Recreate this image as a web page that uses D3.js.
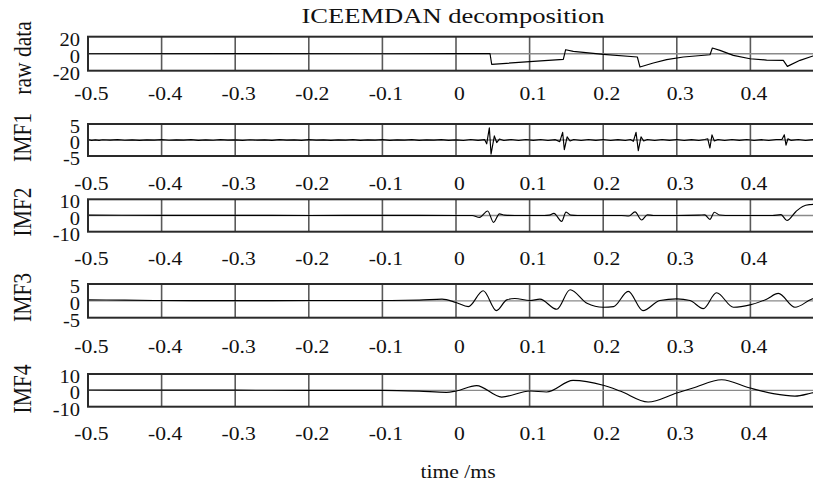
<!DOCTYPE html>
<html>
<head>
<meta charset="utf-8">
<script src="https://cdn.jsdelivr.net/npm/d3@7"></script>
<style>
  html, body { margin: 0; padding: 0; background: #fff; overflow: hidden; }
  svg { display: block; }
  text { font-family: "Liberation Serif", "Times New Roman", serif; fill: #111; }
</style>
</head>
<body>
<svg id="chart" width="813" height="484"></svg>
<script>
// ---- data -------------------------------------------------------------
const xTicks = [-0.5, -0.4, -0.3, -0.2, -0.1, 0, 0.1, 0.2, 0.3, 0.4];
const panelNames = ["raw data", "IMF1", "IMF2", "IMF3", "IMF4"];
const panelLimits = [20, 5, 10, 5, 10];
const titleText = "ICEEMDAN decomposition";
const xLabelText = "time /ms";

// raw signal: flat, then a sawtooth of jumps every 0.1 ms
const rawData = [
  [-0.5, 0], [-0.3, 0.1], [-0.1, 0], [0.0, 0.1], [0.0462, 0.2],
  [0.0485, -12.5], [0.1, -9.4], [0.1458, -6.7],
  [0.149, 4.7], [0.1594, 2.7], [0.2002, -0.8], [0.2464, -3.9],
  [0.25, -15.7], [0.2681, -11], [0.2862, -7], [0.3089, -3.9], [0.3451, -1.2],
  [0.3483, 6.7], [0.3587, 3.9], [0.3768, -2], [0.3995, -5.9], [0.4221, -7.5], [0.4447, -7.8],
  [0.4502, -14.9], [0.4674, -7.8], [0.485, -2.7], [0.5, -1.2]
];

// IMF1: fine noise with short bursts at each jump
const imf1 = [
  [-0.5, 0.1], [-0.495, -0.1], [-0.49, 0.05], [-0.485, -0.12], [-0.48, 0.08], [-0.47, -0.05],
  [-0.46, 0.1], [-0.45, -0.08], [-0.44, 0.06], [-0.43, -0.1], [-0.42, 0.05], [-0.41, -0.06],
  [-0.40, 0.1], [-0.39, -0.08], [-0.38, 0.05], [-0.37, -0.05], [-0.36, 0.1], [-0.35, -0.1],
  [-0.34, 0.05], [-0.33, -0.08], [-0.32, 0.1], [-0.31, -0.05], [-0.30, 0.05], [-0.29, -0.1],
  [-0.28, 0.08], [-0.27, -0.05], [-0.26, 0.05], [-0.25, -0.1], [-0.24, 0.1], [-0.23, -0.05],
  [-0.22, 0.05], [-0.21, -0.1], [-0.20, 0.1], [-0.19, -0.05], [-0.18, 0.05], [-0.17, -0.1],
  [-0.16, 0.05], [-0.15, -0.05], [-0.14, 0.1], [-0.13, -0.1], [-0.12, 0.05], [-0.11, -0.05],
  [-0.10, 0.1], [-0.09, -0.1], [-0.08, 0.05], [-0.07, -0.05], [-0.06, 0.1], [-0.05, -0.1],
  [-0.04, 0.05], [-0.03, -0.05], [-0.02, 0.1], [-0.01, -0.1], [0.0, 0.05], [0.01, -0.15],
  [0.02, 0.15], [0.03, -0.1],
  [0.039, 0.1], [0.0417, -1.2], [0.0453, 3.8], [0.0476, -4.4], [0.0521, 1.3], [0.0553, -0.8],
  [0.059, 0.3], [0.065, -0.15], [0.075, 0.15], [0.085, -0.15], [0.095, 0.15], [0.105, -0.1],
  [0.115, 0.15], [0.125, -0.15], [0.135, 0.1],
  [0.141, -0.5], [0.1449, 2.4], [0.1472, -3.0], [0.151, 1.0], [0.155, -0.3],
  [0.16, 0.15], [0.17, -0.15], [0.18, 0.15], [0.19, -0.1], [0.20, 0.15], [0.21, -0.15],
  [0.22, 0.1], [0.23, -0.15], [0.237, 0.15],
  [0.241, -0.4], [0.2446, 2.4], [0.2477, -3.3], [0.2514, 1.0], [0.255, -0.3],
  [0.26, 0.15], [0.27, -0.15], [0.28, 0.15], [0.29, -0.1], [0.30, 0.15], [0.31, -0.15],
  [0.32, 0.1], [0.33, -0.15], [0.338, 0.15],
  [0.342, 0.4], [0.345, -2.5], [0.3478, 1.6], [0.351, -0.3],
  [0.356, 0.15], [0.365, -0.15], [0.375, 0.15], [0.385, -0.1], [0.395, 0.15], [0.405, -0.15],
  [0.415, 0.1], [0.425, -0.15], [0.435, 0.15],
  [0.443, 0.2], [0.4461, 1.6], [0.4484, -1.6], [0.451, 0.4], [0.455, -0.1],
  [0.465, 0.15], [0.475, -0.15], [0.485, 0.1], [0.5, 0]
];

// IMF2: smooth wavelets around each jump, rising at the end
const imf2 = [
  [-0.5, 0.2], [-0.4, 0.1], [-0.3, 0.1], [-0.2, 0], [-0.1, 0.1], [0.0, 0],
  [0.022, 0], [0.032, -1.2], [0.043, 2.8], [0.051, -4.2], [0.059, 1.0], [0.066, 0.2], [0.08, 0],
  [0.12, 0], [0.127, 0.2], [0.133, 1.3], [0.1436, -3.6], [0.1495, 2.1], [0.156, 0.2], [0.165, 0],
  [0.225, 0], [0.235, -0.3], [0.2432, 2.2], [0.2523, -2.8], [0.260, 0.4], [0.268, 0], [0.3, 0],
  [0.33, 0.2], [0.338, 0.4], [0.345, -2.4], [0.351, 2.0], [0.358, 0.3], [0.366, 0], [0.4, 0],
  [0.43, 0], [0.4416, 0.5], [0.4497, -3.1], [0.462, 2.5], [0.471, 5.6], [0.48, 6.7], [0.5, 7.1]
];

// IMF3: slower oscillations
const imf3 = [
  [-0.5, 0.3], [-0.45, 0.2], [-0.4, 0.1], [-0.3, 0.05], [-0.2, 0.1], [-0.1, 0.1],
  [-0.05, 0.2], [-0.019, 0.5], [0.0, -0.5], [0.0168, -1.7], [0.037, 3.0], [0.055, -2.9],
  [0.069, 0.3], [0.080, 0.7], [0.1005, 0.1], [0.114, 0.5], [0.137, -2.5], [0.155, 3.3],
  [0.178, -0.7], [0.200, -1.9], [0.214, -1.7], [0.234, 2.8], [0.254, -2.9], [0.277, 0.1],
  [0.300, 0.6], [0.318, 0.1], [0.336, -2.3], [0.354, 2.4], [0.377, -1.9], [0.3995, -1.2],
  [0.422, 0.5], [0.438, 2.2], [0.4606, -1.9], [0.483, 0.5], [0.5, 1.6]
];

// IMF4: slowest component
const imf4 = [
  [-0.5, 0.2], [-0.4, 0.1], [-0.3, 0.1], [-0.2, 0], [-0.1, 0], [-0.05, -0.5],
  [-0.013, -1.2], [0.0, -0.4], [0.028, 2.9], [0.062, -4.1], [0.1005, -0.4], [0.123, -1.0],
  [0.159, 6.1], [0.200, 3.1], [0.223, -0.4], [0.261, -7.1], [0.300, -1.6], [0.322, 1.4],
  [0.361, 6.5], [0.3995, 1.4], [0.431, -2.0], [0.4606, -3.5], [0.483, -1.6], [0.5, 0.2]
];

const seriesData = [rawData, imf1, imf2, imf3, imf4];

// ---- layout -----------------------------------------------------------
const panels = [
  { top: 36.7,  bottom: 70.7,  labelY: 93.7,  nameY: 58,    smooth: false },
  { top: 124,   bottom: 156,   labelY: 183.7, nameY: 137.5, smooth: false },
  { top: 199.3, bottom: 231.7, labelY: 258.3, nameY: 212,   smooth: true },
  { top: 284,   bottom: 317.7, labelY: 346.5, nameY: 297.5, smooth: true },
  { top: 374,   bottom: 406.7, labelY: 433.3, nameY: 389,   smooth: true }
];
const plotLeft = 88, plotRight = 824;
const stretch = 1.14;   // wide glyph proportions of the figure's lettering
const fmt = d => String(+d.toFixed(1));   // plain hyphen minus, e.g. "-0.5"

const svg = d3.select("#chart");
const x = d3.scaleLinear().domain([-0.5, 0.5]).range([plotLeft, plotRight]);

panels.forEach((p, i) => {
  const lim = panelLimits[i];
  const y = d3.scaleLinear().domain([-lim, lim]).range([p.bottom, p.top]);
  const g = svg.append("g");

  const clipId = "clip" + i;
  svg.append("clipPath").attr("id", clipId)
    .append("rect")
    .attr("x", plotLeft).attr("y", p.top)
    .attr("width", plotRight - plotLeft).attr("height", p.bottom - p.top);

  // vertical grid lines at each tick
  g.selectAll("line.grid").data(xTicks).join("line")
    .attr("class", "grid")
    .attr("x1", d => x(d)).attr("x2", d => x(d))
    .attr("y1", p.top).attr("y2", p.bottom)
    .attr("stroke", "#5a5a5a").attr("stroke-width", 1.6);

  // zero line
  g.append("line")
    .attr("x1", plotLeft).attr("x2", plotRight)
    .attr("y1", y(0)).attr("y2", y(0))
    .attr("stroke", "#8a8a8a").attr("stroke-width", 1.4);

  // signal
  const line = d3.line()
    .x(d => x(d[0])).y(d => y(d[1]))
    .curve(p.smooth ? d3.curveMonotoneX : d3.curveLinear);
  g.append("path")
    .datum(seriesData[i])
    .attr("clip-path", `url(#${clipId})`)
    .attr("fill", "none")
    .attr("stroke", "#000")
    .attr("stroke-width", 1.15)
    .attr("stroke-linejoin", "round")
    .attr("d", line);

  // frame
  g.append("rect")
    .attr("x", plotLeft).attr("y", p.top)
    .attr("width", plotRight - plotLeft).attr("height", p.bottom - p.top)
    .attr("fill", "none").attr("stroke", "#2a2a2a").attr("stroke-width", 2);

  // x tick labels
  const xAxis = d3.axisBottom(x).tickValues(xTicks).tickSize(0).tickFormat(fmt);
  const xa = g.append("g").attr("transform", `translate(0,${p.bottom})`).call(xAxis);
  xa.select(".domain").remove();
  xa.selectAll("text")
    .attr("y", 0).attr("dy", "0.34em")
    .attr("transform", `translate(3,${p.labelY - p.bottom}) scale(${stretch},1)`)
    .style("font-size", "19px")
    .style("font-family", '"Liberation Serif", "Times New Roman", serif')
    .attr("fill", "#111");

  // y tick labels (stacked tightly, as in the figure)
  const yAxis = d3.axisLeft(y).tickValues([-lim, 0, lim]).tickSize(0).tickFormat(fmt);
  const ya = g.append("g").attr("transform", `translate(${plotLeft},0)`).call(yAxis);
  ya.select(".domain").remove();
  ya.selectAll("text")
    .attr("x", 0).attr("dy", "0.34em")
    .attr("transform", `translate(-8,2.5) scale(${stretch},1)`)
    .style("font-size", "18px")
    .style("font-family", '"Liberation Serif", "Times New Roman", serif')
    .attr("fill", "#111");

  // panel name
  svg.append("text")
    .attr("text-anchor", "middle")
    .attr("transform", `translate(31,${p.nameY}) scale(1.15,1) rotate(-90)`)
    .style("font-size", "21.5px")
    .text(panelNames[i]);
});

// title
svg.append("text")
  .attr("x", 453).attr("y", 23)
  .attr("text-anchor", "middle")
  .attr("textLength", 303).attr("lengthAdjust", "spacingAndGlyphs")
  .style("font-size", "20px")
  .text(titleText);

// x axis label
svg.append("text")
  .attr("text-anchor", "middle")
  .attr("transform", `translate(458,478) scale(${stretch},1)`)
  .style("font-size", "19px")
  .text(xLabelText);
</script>
</body>
</html>
